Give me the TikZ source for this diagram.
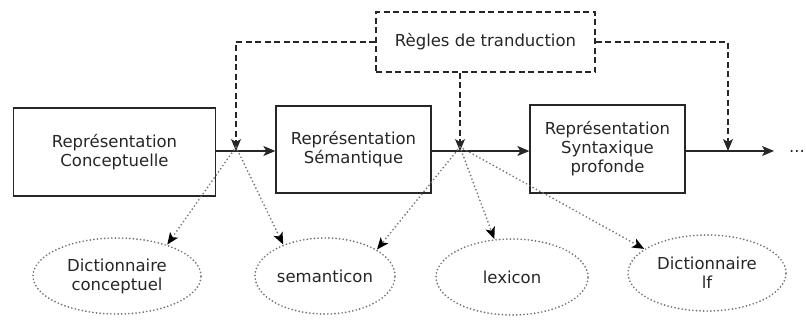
\documentclass[tikz,border=0pt]{standalone}
\usepackage{fontspec}
\setmainfont{DejaVu Sans}
\usetikzlibrary{arrows.meta,shapes.geometric}
\begin{document}
\begin{tikzpicture}[x=1pt,y=-1pt,
  font=\fontsize{16.5}{19}\selectfont,
  every node/.style={text=black!85},
  stage/.style={draw=black!85,line width=1.3pt,inner sep=0pt,align=center},
  resource/.style={ellipse,draw=black!55,line width=1.9pt,
    dash pattern=on 0pt off 3.6pt,line cap=round,inner sep=0pt,align=center},
  flow/.style={line width=1.3pt,draw=black!85,-{Stealth[length=12pt,width=10pt,inset=3pt]}},
  rule/.style={line width=1.2pt,draw=black!85,dash pattern=on 6pt off 3.5pt,
    -{Stealth[length=12pt,width=10pt,inset=3pt]}},
  lookup/.style={line width=1.9pt,draw=black!55,dash pattern=on 0pt off 3.8pt,line cap=round,
    -{Stealth[length=12pt,width=10pt,inset=3pt,black,line cap=butt,line width=0pt]}}]
\useasboundingbox (0,0) rectangle (806,324);

% processing stages
\node[stage,minimum width=202pt,minimum height=88pt] (b1) at (114.5,152) {Représentation\\Conceptuelle};
\node[stage,minimum width=155pt,minimum height=87pt] (b2) at (353.5,149.5) {Représentation\\Sémantique};
\node[stage,minimum width=155pt,minimum height=88pt] (b3) at (607.5,149) {Représentation\\Syntaxique\\profonde};

% translation rules
\node[stage,line width=1.2pt,dash pattern=on 6pt off 3.5pt,minimum width=219pt,minimum height=60pt] (r) at (485.5,42) {Règles de tranduction};

% linguistic resources
\node[resource,minimum width=168pt,minimum height=76pt] (e1) at (117,276) {Dictionnaire\\conceptuel};
\node[resource,minimum width=140pt,minimum height=76pt] (e2) at (325,276) {semanticon};
\node[resource,minimum width=152pt,minimum height=76pt] (e3) at (512,277) {lexicon};
\node[resource,minimum width=158pt,minimum height=76pt] (e4) at (707,273) {Dictionnaire\\lf};

% junctions on the main line
\coordinate (j1) at (236,151);
\coordinate (j2) at (460,151);
\coordinate (j3) at (728,151);
\coordinate (out) at (774,151);
\node[anchor=east,inner sep=0pt] (more) at (805,151) {...};

% main flow
\draw[flow] (b1.east |- j1) -- (b2.west |- j1);
\draw[flow] (b2.east |- j2) -- (b3.west |- j2);
\draw[flow] (b3.east |- j3) -- (out);

% rules applied at each step
\draw[rule] (r.west) -| (j1);
\draw[rule] (j2 |- r.south) -- (j2);
\draw[rule] (r.east) -| (j3);

% resource lookups
\draw[lookup] ([yshift=4pt]j1) -- (e1.32);
\draw[lookup] ([yshift=4pt]j1) -- (e2.143);
\draw[lookup] ([yshift=4pt]j2) -- (e2.27);
\draw[lookup] ([yshift=4pt]j2) -- (e3.115);
\draw[lookup] ([yshift=4pt]j2) -- (e4.159);
\end{tikzpicture}
\end{document}
